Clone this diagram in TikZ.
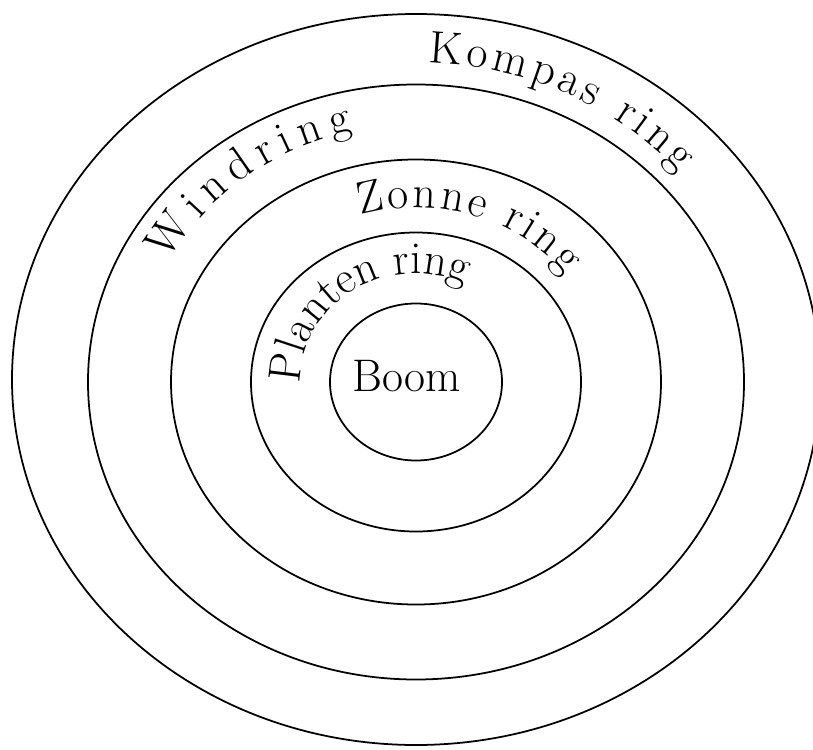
\documentclass[tikz,border=0pt]{standalone}
\usepackage{tikz}
\usetikzlibrary{decorations.text}

\tikzset{
  ringlabel/.style={decorate,decoration={text along path,text align={fit to path},
    text={|\fontsize{26}{30}\selectfont|#1}}}
}

\begin{document}
\begin{tikzpicture}[x=1cm,y=1cm,line width=1pt]

\useasboundingbox (-8.32,-7.34) rectangle (7.94,7.64);

% Ringen
\draw (0,0) ellipse [x radius=1.72,y radius=1.57];
\draw (0,0) ellipse [x radius=3.30,y radius=2.99];
\draw (0,0) ellipse [x radius=4.90,y radius=4.45];
\draw (0,0) ellipse [x radius=6.56,y radius=5.95];
\draw (0,0.05) ellipse [x radius=8.08,y radius=7.31];

% Midden
\node[font=\fontsize{26}{30}\selectfont] (boom) at (-0.18,0.12) {Boom};

% Opschriften langs de ringen
\path[ringlabel=Kompas ring]
    (88:6.98 and 6.39) arc[start angle=88,end angle=41,x radius=6.98,y radius=6.39];

\path[ringlabel=Windring]
    (152:5.60 and 5.15) arc[start angle=152,end angle=103,x radius=5.60,y radius=5.15];

\path[ringlabel=Zonne ring]
    (107:3.80 and 3.49) arc[start angle=107,end angle=38,x radius=3.80,y radius=3.49];

\path[ringlabel=Planten ring]
    (181:2.32 and 2.17) arc[start angle=181,end angle=65,x radius=2.32,y radius=2.17];

\end{tikzpicture}
\end{document}
